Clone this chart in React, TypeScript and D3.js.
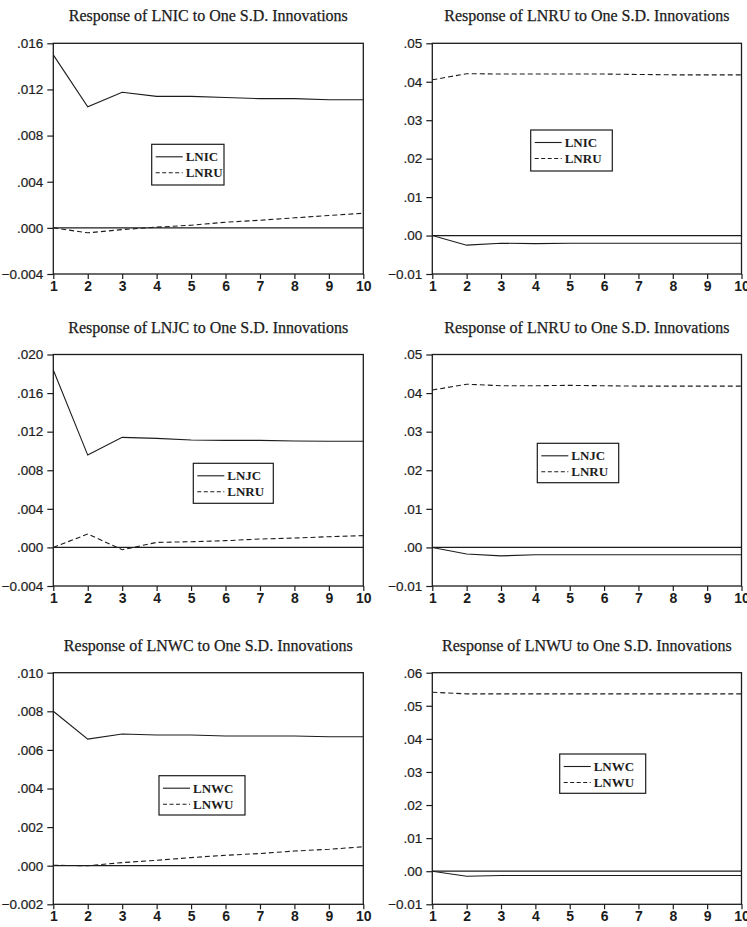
import React, { useEffect, useRef } from "react";
import * as d3 from "d3";

// forecast horizon
const periods = [1, 2, 3, 4, 5, 6, 7, 8, 9, 10];

// Response of LNIC
const lnicToLnic = [0.0150, 0.0105, 0.01175, 0.0114, 0.0114, 0.0113, 0.0112, 0.0112, 0.0111, 0.0111];
const lnicToLnru = [0.0, -0.00043, -0.00015, 0.00006, 0.00023, 0.00049, 0.00066, 0.00087, 0.00107, 0.00127];
// Response of LNRU (LNIC system)
const lnruToLnic = [0.0, -0.0025, -0.0020, -0.0021, -0.0020, -0.0020, -0.0020, -0.0020, -0.0020, -0.0020];
const lnruToLnru1 = [0.0405, 0.0421, 0.0420, 0.0420, 0.0420, 0.0420, 0.0419, 0.0418, 0.0418, 0.0418];
// Response of LNJC
const lnjcToLnjc = [0.0184, 0.00957, 0.01141, 0.0113, 0.01113, 0.0111, 0.0111, 0.01103, 0.0110, 0.0110];
const lnjcToLnru = [0.0, 0.00139, -0.00024, 0.00052, 0.00059, 0.0007, 0.00087, 0.00097, 0.00111, 0.00122];
// Response of LNRU (LNJC system)
const lnruToLnjc = [0.0, -0.0017, -0.0022, -0.0019, -0.0019, -0.0019, -0.0019, -0.0019, -0.0019, -0.0019];
const lnruToLnru2 = [0.0408, 0.0423, 0.0419, 0.0419, 0.0420, 0.0419, 0.0418, 0.0418, 0.0418, 0.0418];
// Response of LNWC
const lnwcToLnwc = [0.0080, 0.00656, 0.00682, 0.00677, 0.00677, 0.00672, 0.00672, 0.00672, 0.00668, 0.00668];
const lnwcToLnwu = [0.00002, 0.0, 0.00016, 0.00028, 0.00042, 0.00054, 0.00063, 0.00076, 0.00085, 0.00098];
// Response of LNWU
const lnwuToLnwc = [0.0, -0.0015, -0.0013, -0.0013, -0.0013, -0.0013, -0.0013, -0.0013, -0.0013, -0.0013];
const lnwuToLnwu = [0.0541, 0.0536, 0.0536, 0.0536, 0.0536, 0.0536, 0.0536, 0.0536, 0.0536, 0.0536];

const yTicks1 = [-0.004, 0.0, 0.004, 0.008, 0.012, 0.016];
const yTicks2 = [-0.01, 0.0, 0.01, 0.02, 0.03, 0.04, 0.05];
const yTicks3 = [-0.004, 0.0, 0.004, 0.008, 0.012, 0.016, 0.02];
const yTicks5 = [-0.002, 0.0, 0.002, 0.004, 0.006, 0.008, 0.01];
const yTicks6 = [-0.01, 0.0, 0.01, 0.02, 0.03, 0.04, 0.05, 0.06];

const panels = [
  { title: "Response of LNIC to One S.D. Innovations", ticks: yTicks1, dec: 3,
    series: [{ name: "LNIC", values: lnicToLnic }, { name: "LNRU", values: lnicToLnru }] },
  { title: "Response of LNRU to One S.D. Innovations", ticks: yTicks2, dec: 2,
    series: [{ name: "LNIC", values: lnruToLnic }, { name: "LNRU", values: lnruToLnru1 }] },
  { title: "Response of LNJC to One S.D. Innovations", ticks: yTicks3, dec: 3,
    series: [{ name: "LNJC", values: lnjcToLnjc }, { name: "LNRU", values: lnjcToLnru }] },
  { title: "Response of LNRU to One S.D. Innovations", ticks: yTicks2, dec: 2,
    series: [{ name: "LNJC", values: lnruToLnjc }, { name: "LNRU", values: lnruToLnru2 }] },
  { title: "Response of LNWC to One S.D. Innovations", ticks: yTicks5, dec: 3,
    series: [{ name: "LNWC", values: lnwcToLnwc }, { name: "LNWU", values: lnwcToLnwu }] },
  { title: "Response of LNWU to One S.D. Innovations", ticks: yTicks6, dec: 2,
    series: [{ name: "LNWC", values: lnwuToLnwc }, { name: "LNWU", values: lnwuToLnwu }] },
];

// layout: plot frames and legend boxes (pixels)
const cols = [[53.3, 363.3], [432.3, 741.5]];
const rows = [[43.3, 274], [354.5, 586], [672.7, 904.3]];
const legendBoxes = [
  [151.7, 144.3, 72.3, 40.7],
  [530.7, 130, 81.6, 41],
  [193.3, 463.3, 80, 40],
  [537.3, 443.3, 81.4, 39.4],
  [159, 775.7, 86, 39.3],
  [559.7, 754, 86, 39.3],
];

const ink = "#1c1c1c";

export default function App() {
  const ref = useRef<SVGSVGElement>(null);

  useEffect(() => {
    document.body.style.margin = "0";
    const svg = d3.select(ref.current);
    svg.selectAll("*").remove();

    panels.forEach((p, i) => {
      const [x0, x1] = cols[i % 2];
      const [y0, y1] = rows[Math.floor(i / 2)];
      const x = d3.scaleLinear().domain([1, 10]).range([x0, x1]);
      const y = d3.scaleLinear()
        .domain([p.ticks[0], p.ticks[p.ticks.length - 1]])
        .range([y1, y0]);
      const fmt = (v: number) => d3.format(`.${p.dec}f`)(v).replace(/^(-?)0\./, "$1.");

      const g = svg.append("g");

      g.append("text")
        .attr("x", (x0 + x1) / 2)
        .attr("y", y0 - 22)
        .attr("text-anchor", "middle")
        .attr("font-family", "'Liberation Serif', 'Times New Roman', serif")
        .attr("font-size", 16)
        .attr("fill", ink)
        .attr("stroke", ink)
        .attr("stroke-width", 0.25)
        .text(p.title);

      // y axis
      const yAxis = d3.axisLeft(y).tickValues(p.ticks).tickFormat(fmt as any)
        .tickSizeInner(6).tickSizeOuter(0).tickPadding(4);
      const ya = g.append("g").attr("transform", `translate(${x0},0)`).call(yAxis);
      ya.select(".domain").remove();
      ya.selectAll("line").attr("stroke", ink).attr("stroke-width", 1.2);
      ya.selectAll("text")
        .attr("font-family", "'Liberation Sans', Arial, sans-serif")
        .attr("font-size", 13.5)
        .attr("fill", ink)
        .attr("stroke", ink)
        .attr("stroke-width", 0.2);

      // x axis
      const xAxis = d3.axisBottom(x).tickValues(periods).tickFormat(d3.format("d") as any)
        .tickSizeInner(5).tickSizeOuter(0).tickPadding(2);
      const xa = g.append("g").attr("transform", `translate(0,${y1})`).call(xAxis);
      xa.select(".domain").remove();
      xa.selectAll("line").attr("stroke", ink).attr("stroke-width", 1.2);
      xa.selectAll("text")
        .attr("font-family", "'Liberation Sans', Arial, sans-serif")
        .attr("font-size", 14)
        .attr("font-weight", "bold")
        .attr("fill", ink);

      // zero line
      g.append("line")
        .attr("x1", x0).attr("x2", x1)
        .attr("y1", y(0)).attr("y2", y(0))
        .attr("stroke", ink).attr("stroke-width", 1.2);

      const line = d3.line<number>()
        .x((_, k) => x(periods[k]))
        .y(d => y(d));

      p.series.forEach((s, k) => {
        g.append("path")
          .attr("d", line(s.values))
          .attr("fill", "none")
          .attr("stroke", ink)
          .attr("stroke-width", 1.1)
          .attr("stroke-dasharray", k === 1 ? "5,3" : null);
      });

      // frame
      g.append("rect")
        .attr("x", x0).attr("y", y0)
        .attr("width", x1 - x0).attr("height", y1 - y0)
        .attr("fill", "none")
        .attr("stroke", ink)
        .attr("stroke-width", 1.3);

      // legend
      const [lx, ly, lw, lh] = legendBoxes[i];
      const lg = g.append("g").attr("transform", `translate(${lx},${ly})`);
      lg.append("rect")
        .attr("width", lw).attr("height", lh)
        .attr("fill", "white")
        .attr("stroke", ink)
        .attr("stroke-width", 1.2);
      p.series.forEach((s, k) => {
        const ry = 12.5 + k * 16;
        lg.append("line")
          .attr("x1", 4).attr("x2", 31)
          .attr("y1", ry).attr("y2", ry)
          .attr("stroke", ink).attr("stroke-width", 1.1)
          .attr("stroke-dasharray", k === 1 ? "4,2.5" : null);
        lg.append("text")
          .attr("x", 34).attr("y", ry + 4.5)
          .attr("font-family", "'Liberation Serif', 'Times New Roman', serif")
          .attr("font-size", 13)
          .attr("font-weight", "bold")
          .attr("fill", ink)
          .text(s.name);
      });
    });
  }, []);

  return (
    <svg ref={ref} width={747} height={927} style={{ display: "block", background: "white" }} />
  );
}
